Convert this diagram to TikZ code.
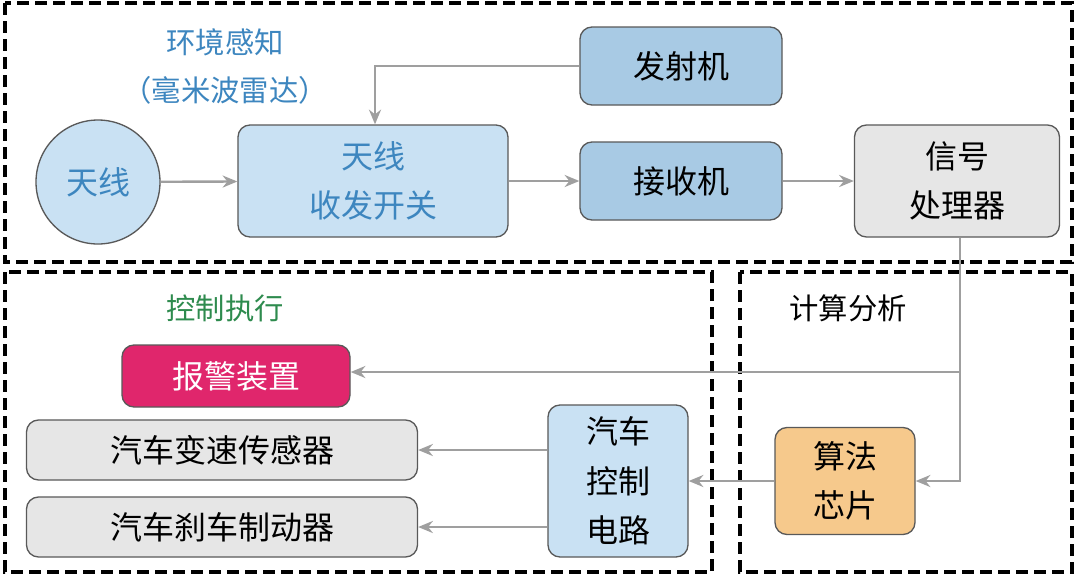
\documentclass[tikz,border=0pt]{standalone}
\usepackage{fontspec}
\setmainfont{Noto Sans CJK SC}
\usetikzlibrary{arrows.meta}
\definecolor{lb}{HTML}{C9E1F3}
\definecolor{mb}{HTML}{A8CAE4}
\definecolor{tb}{HTML}{3D86BF}
\definecolor{lg}{HTML}{E6E6E6}
\definecolor{pk}{HTML}{E0266C}
\definecolor{og}{HTML}{F6C98C}
\definecolor{gn}{HTML}{2E8B4E}
\begin{document}
\begin{tikzpicture}[x=0.75pt,y=-0.75pt,
 box/.style={draw=gray!70!black,line width=1pt,rounded corners=9pt,align=center,font=\fontsize{24}{37}\selectfont,inner sep=0pt},
 frame/.style={draw=black,line width=3pt,dash pattern=on 9pt off 4.5pt},
 ttl/.style={font=\fontsize{22}{26}\selectfont},
 arr/.style={draw=gray!75,line width=1.8pt,-{Stealth[length=11pt,width=9pt]}}]
\useasboundingbox[fill=white] (0,0) rectangle (1080,576);
\draw[frame] (5,3) rectangle (1072,262);
\draw[frame] (5,272) rectangle (712,572);
\draw[frame] (740,272) rectangle (1072,572);
\node[ttl,text=tb] (t1) at (225,42) {环境感知};
\node[ttl,text=tb] (t2) at (225,90) {（毫米波雷达）};
\node[ttl,text=gn] (t3) at (225,308) {控制执行};
\node[ttl] (t4) at (848,308) {计算分析};
\node[box,circle,fill=lb,text=tb,minimum size=124*0.75pt] (ant) at (98,182) {天线};
\node[box,fill=lb,text=tb,minimum width=270*0.75pt,minimum height=112*0.75pt] (sw) at (373,181) {天线\\收发开关};
\node[box,fill=mb,minimum width=202*0.75pt,minimum height=78*0.75pt] (tx) at (681,66) {发射机};
\node[box,fill=mb,minimum width=202*0.75pt,minimum height=78*0.75pt] (rx) at (681,181) {接收机};
\node[box,fill=lg,minimum width=205*0.75pt,minimum height=112*0.75pt] (sp) at (957,181) {信号\\处理器};
\node[box,fill=pk,text=white,minimum width=228*0.75pt,minimum height=62*0.75pt] (al) at (236,376) {报警装置};
\node[box,fill=lg,minimum width=391*0.75pt,minimum height=60*0.75pt] (gs) at (222,450) {汽车变速传感器};
\node[box,fill=lg,minimum width=391*0.75pt,minimum height=60*0.75pt] (br) at (222,527) {汽车刹车制动器};
\node[box,fill=lb,minimum width=140*0.75pt,minimum height=152*0.75pt] (cc) at (618,481) {汽车\\控制\\电路};
\node[box,fill=og,minimum width=140*0.75pt,minimum height=107*0.75pt] (ch) at (845,481) {算法\\芯片};
\draw[arr] (ant) -- (sw);
\draw[arr] (sw.east) -- (rx.west);
\draw[arr] (rx) -- (sp);
\draw[arr] (tx.west) -- (375,66) -- (sw.north -| 375,0);
\coordinate (j1) at (960,372);
\draw[arr] (sp.south -| j1) -- (j1) -- (al.east |- j1);
\draw[arr] (j1) -- (960,481) -- (ch.east);
\draw[arr] (ch) -- (cc);
\draw[arr] (cc.west |- gs) -- (gs.east);
\draw[arr] (cc.west |- br) -- (br.east);
\end{tikzpicture}
\end{document}
